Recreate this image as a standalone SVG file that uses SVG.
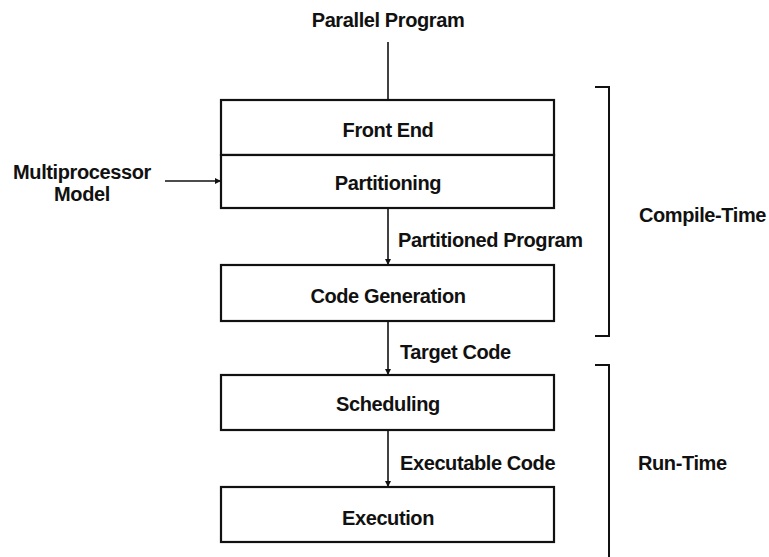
<svg xmlns="http://www.w3.org/2000/svg" width="769" height="557" viewBox="0 0 769 557">
<defs>
<style>
text{font-family:"Liberation Sans",Arial,sans-serif;font-weight:bold;font-size:20px;fill:#111;letter-spacing:-0.4px}
.c{text-anchor:middle}
.box{fill:#fff;stroke:#111;stroke-width:2.2}
.ln{stroke:#111;stroke-width:1.6;fill:none}
.br{stroke:#111;stroke-width:2;fill:none}
</style>
<marker id="ah" viewBox="0 0 10 10" refX="10" refY="5" markerWidth="6" markerHeight="6" markerUnits="userSpaceOnUse" orient="auto">
<path d="M0,0 L10,5 L0,10 z" fill="#111"/>
</marker>
</defs>
<rect width="769" height="557" fill="#fff"/>
<g id="connectors">
<line class="ln" x1="388" y1="42" x2="388" y2="100"/>
<line class="ln" x1="165" y1="181" x2="221" y2="181" marker-end="url(#ah)"/>
<line class="ln" x1="388" y1="208" x2="388" y2="265" marker-end="url(#ah)"/>
<line class="ln" x1="388" y1="321" x2="388" y2="375" marker-end="url(#ah)"/>
<line class="ln" x1="388" y1="430" x2="388" y2="487" marker-end="url(#ah)"/>
<text x="398" y="247">Partitioned Program</text>
<text x="400" y="359">Target Code</text>
<text x="400" y="470">Executable Code</text>
</g>
<g id="input">
<text class="c" x="388" y="27">Parallel Program</text>
</g>
<g id="multiprocessor-model">
<text class="c" x="82" y="179">Multiprocessor</text>
<text class="c" x="82" y="201">Model</text>
</g>
<g id="front-end">
<rect class="box" x="221" y="100" width="333" height="55"/>
<text class="c" x="388" y="137">Front End</text>
</g>
<g id="partitioning">
<rect class="box" x="221" y="155" width="333" height="53"/>
<text class="c" x="388" y="190">Partitioning</text>
</g>
<g id="code-generation">
<rect class="box" x="221" y="265" width="333" height="56"/>
<text class="c" x="388" y="303">Code Generation</text>
</g>
<g id="scheduling">
<rect class="box" x="221" y="375" width="333" height="55"/>
<text class="c" x="388" y="411">Scheduling</text>
</g>
<g id="execution">
<rect class="box" x="221" y="487" width="333" height="55"/>
<text class="c" x="388" y="525">Execution</text>
</g>
<g id="compile-time">
<path class="br" d="M595,87 H609 V336 H595"/>
<text x="639" y="222">Compile-Time</text>
</g>
<g id="run-time">
<path class="br" d="M595,365 H609 V557"/>
<text x="638" y="470">Run-Time</text>
</g>
</svg>
